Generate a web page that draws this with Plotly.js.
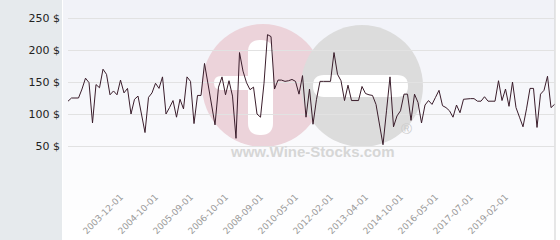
<!DOCTYPE html>
<html>
<head>
<meta charset="utf-8">
<script src="https://cdn.plot.ly/plotly-3.0.1.min.js"></script>
<style>
  html, body { margin: 0; padding: 0; background: #ffffff; }
  #chart { width: 560px; height: 240px; }
</style>
</head>
<body>
<div id="chart"></div>
<script>
// ---- data ----
const prices = [
  120,125,125,125,139,156,149,86,146,141,
  170,162,130,136,130,153,133,140,100,123,
  128,100,71,126,133,148,140,158,100,110,
  121,95,123,108,158,151,85,129,129,179,
  149,116,83,142,158,130,152,128,62,196,
  167,149,138,142,100,95,148,224,221,139,
  153,153,151,152,154,151,131,160,95,139,
  84,123,151,151,151,151,196,162,152,121,
  145,121,121,121,143,132,130,129,115,86,
  52,105,158,80,97,105,131,131,90,131,
  118,86,114,121,115,126,137,113,110,105,
  95,114,102,123,124,124,124,120,120,127,
  120,120,120,152,121,139,112,150,110,95,
  80,108,140,140,79,131,137,159,110,115
];
const tickDates = ['2003-12-01','2004-10-01','2005-09-01','2006-10-01','2008-09-01','2010-05-01',
                   '2012-02-01','2013-04-01','2014-10-01','2016-05-01','2017-07-01','2019-02-01'];
const tickIndex = [15,25,35,45,55,65,75,85,95,105,115,125];
const yTickVals = [0,50,100,150,200,250];
const yTickText = ['','50 $','100 $','150 $','200 $','250 $'];

// ---- page geometry helpers (page px -> paper coords) ----
const W = 560, H = 240, ML = 68, MR = 5, MT = 10, MB = 62;
const PW = W - ML - MR, PH = H - MT - MB;
const px = x => (x - ML) / PW;
const py = y => (H - MB - y) / PH;

function roundRect(x0, y0, x1, y1, r) {
  const P = (x, y) => px(x).toFixed(5) + ',' + py(y).toFixed(5);
  return 'M' + P(x0 + r, y0) + ' L' + P(x1 - r, y0) + ' Q' + P(x1, y0) + ' ' + P(x1, y0 + r) +
         ' L' + P(x1, y1 - r) + ' Q' + P(x1, y1) + ' ' + P(x1 - r, y1) +
         ' L' + P(x0 + r, y1) + ' Q' + P(x0, y1) + ' ' + P(x0, y1 - r) +
         ' L' + P(x0, y0 + r) + ' Q' + P(x0, y0) + ' ' + P(x0 + r, y0) + ' Z';
}

const shapes = [];
// left grey panel
shapes.push({type:'rect', xref:'paper', yref:'paper', x0:px(0), x1:px(62), y0:py(240), y1:py(0),
             fillcolor:'#e6eaed', line:{width:0}, layer:'below'});
// vertical gradient in the chart area
const nb = 24;
for (let k = 0; k < nb; k++) {
  const t = k / (nb - 1);
  const r = Math.round(241 + (255 - 241) * t), g = Math.round(242 + (255 - 242) * t), b = Math.round(248 + (255 - 248) * t);
  shapes.push({type:'rect', xref:'paper', yref:'paper', x0:px(63), x1:px(555),
               y0:py(240 * (k + 1) / nb), y1:py(240 * k / nb),
               fillcolor:`rgb(${r},${g},${b})`, line:{width:0}, layer:'below'});
}
// watermark
shapes.push({type:'circle', xref:'paper', yref:'paper', x0:px(202), x1:px(324), y0:py(147), y1:py(24),
             fillcolor:'#ecd3da', line:{width:0}, layer:'below'});
shapes.push({type:'circle', xref:'paper', yref:'paper', x0:px(301), x1:px(423), y0:py(147), y1:py(25),
             fillcolor:'#dcdcdc', line:{width:0}, layer:'below'});
shapes.push({type:'path', xref:'paper', yref:'paper', path:roundRect(248, 40, 273, 135, 12),
             fillcolor:'#ffffff', line:{width:0}, layer:'below'});
shapes.push({type:'path', xref:'paper', yref:'paper', path:roundRect(214, 76, 256, 90, 7),
             fillcolor:'#ffffff', line:{width:0}, layer:'below'});
shapes.push({type:'path', xref:'paper', yref:'paper', path:roundRect(313, 75, 408, 97, 11),
             fillcolor:'#ffffff', line:{width:0}, layer:'below'});
// right frame line
shapes.push({type:'line', xref:'paper', yref:'paper', x0:px(555), x1:px(555), y0:py(240), y1:py(0),
             line:{color:'#cfcfcf', width:1}, layer:'below'});

const annotations = [
  {xref:'paper', yref:'paper', x:px(312), y:py(162), text:'www.Wine-Stocks.com', showarrow:false,
   font:{family:'Liberation Sans, Arial, sans-serif', size:15, color:'#d6d6d6', weight:'bold'}},
  {xref:'paper', yref:'paper', x:px(414), y:py(139), text:'®', showarrow:false,
   font:{family:'Liberation Sans, Arial, sans-serif', size:15, color:'#cccccc'}}
];

const trace = {
  y: prices,
  type: 'scatter',
  mode: 'lines',
  line: {color:'#3a1d2b', width:1},
  hoverinfo: 'skip'
};

const layout = {
  width: W, height: H,
  margin: {l:ML, r:MR, t:MT, b:MB, pad:0},
  paper_bgcolor: '#ffffff',
  plot_bgcolor: 'rgba(0,0,0,0)',
  showlegend: false,
  hovermode: false,
  xaxis: {
    range: [0, 139.14],
    tickmode: 'array', tickvals: tickIndex, ticktext: tickDates,
    tickangle: -45, showgrid: false, zeroline: false, showline: false, ticks: '',
    ticklabelstandoff: 11,
    tickfont: {family:'DejaVu Sans, sans-serif', size:9, color:'#9a9a9a'},
    fixedrange: true
  },
  yaxis: {
    range: [0, 262.5],
    tickmode: 'array', tickvals: yTickVals, ticktext: yTickText,
    showgrid: true, gridcolor: '#e2e2e2', gridwidth: 1,
    zeroline: false, showline: false, ticks: '',
    ticklabelstandoff: 7,
    tickfont: {family:'DejaVu Sans, sans-serif', size:11, color:'#222222'},
    fixedrange: true
  },
  shapes: shapes,
  annotations: annotations
};

Plotly.newPlot('chart', [trace], layout, {displayModeBar:false, staticPlot:true});
</script>
</body>
</html>
